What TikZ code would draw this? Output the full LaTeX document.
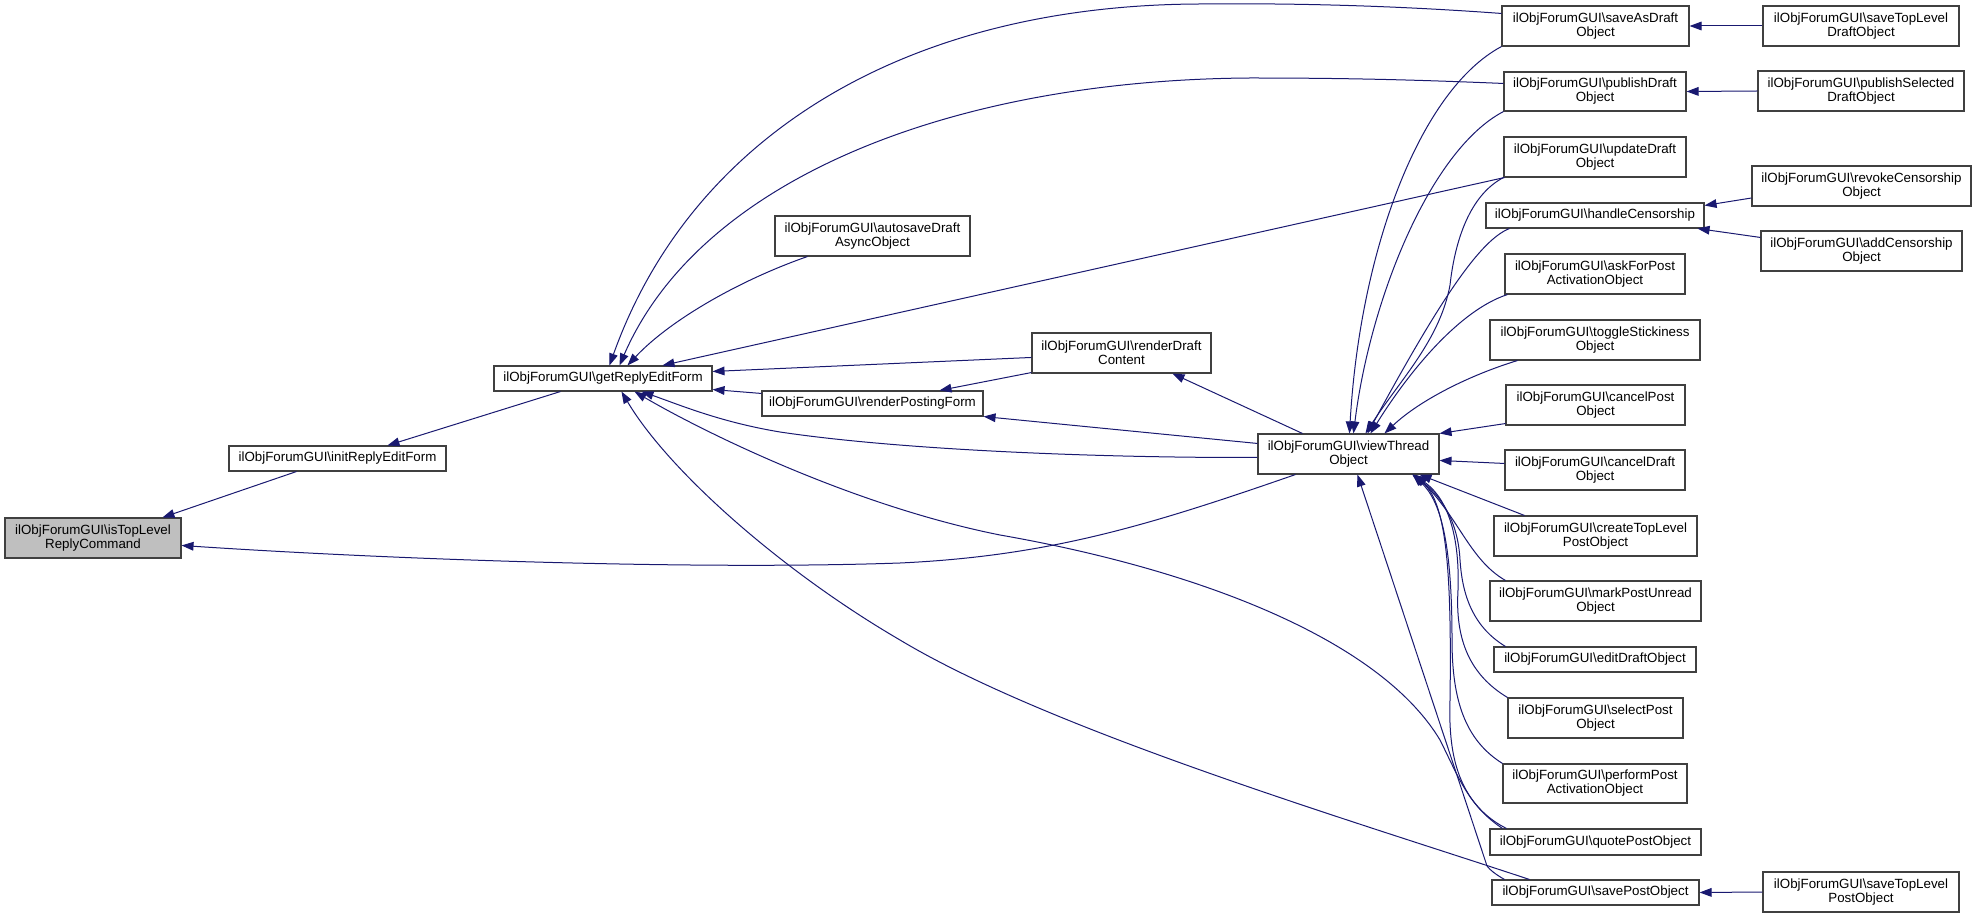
\documentclass[tikz,border=0pt]{standalone}
\usepackage{fontspec}
\setmainfont{Liberation Sans}
\usetikzlibrary{arrows.meta,calc}
\definecolor{edgecol}{RGB}{25,25,112}
\definecolor{boxborder}{RGB}{64,64,64}
\definecolor{hilite}{RGB}{191,191,191}
\tikzset{
  fn/.style={draw=boxborder, line width=0.8pt, fill=white, align=center, inner sep=0pt,
    font=\fontsize{10}{10.5}\selectfont},
  ed/.style={draw=edgecol, line width=0.75pt, -{Triangle[length=9pt,width=6.5pt]}},
}
\newcommand\bx[7][]{\node[fn,minimum width={(#5-#3)*0.75pt},minimum height={(#6-#4)*0.75pt},#1] (#2) at ({(#3+#5)/2},{(#4+#6)/2}) {#7};}
\newcommand\OF{ilObjForumGUI\textbackslash}
\begin{document}
\begin{tikzpicture}[x=0.75pt,y=-0.75pt]
\useasboundingbox (0,0) rectangle (1976,919);
% nodes
\bx[fill=hilite]{isTop}{5}{518}{181}{558}{\OF isTopLevel\\ReplyCommand}
\bx{init}{229}{446}{446}{471}{\OF initReplyEditForm}
\bx{getReply}{494}{366}{712}{391}{\OF getReplyEditForm}
\bx{autosave}{775}{216}{970}{256}{\OF autosaveDraft\\AsyncObject}
\bx{renderDraft}{1032}{333}{1211}{373}{\OF renderDraft\\Content}
\bx{renderPosting}{762}{391}{983}{416}{\OF renderPostingForm}
\bx{viewThread}{1258}{434}{1439}{474}{\OF viewThread\\Object}
\bx{saveAsDraft}{1502}{6}{1689}{46}{\OF saveAsDraft\\Object}
\bx{publishDraft}{1504}{72}{1686}{111}{\OF publishDraft\\Object}
\bx{updateDraft}{1504}{137}{1686}{177}{\OF updateDraft\\Object}
\bx{handleCens}{1486}{203}{1704}{228}{\OF handleCensorship}
\bx{askForPost}{1505}{254}{1685}{294}{\OF askForPost\\ActivationObject}
\bx{toggleSt}{1490}{320}{1700}{360}{\OF toggleStickiness\\Object}
\bx{cancelPost}{1506}{385}{1685}{425}{\OF cancelPost\\Object}
\bx{cancelDraft}{1505}{450}{1685}{490}{\OF cancelDraft\\Object}
\bx{createTop}{1494}{516}{1697}{556}{\OF createTopLevel\\PostObject}
\bx{markUnread}{1490}{581}{1701}{621}{\OF markPostUnread\\Object}
\bx{editDraft}{1494}{647}{1696}{672}{\OF editDraftObject}
\bx{selectPost}{1508}{698}{1683}{738}{\OF selectPost\\Object}
\bx{performPost}{1503}{764}{1687}{803}{\OF performPost\\ActivationObject}
\bx{quotePost}{1490}{829}{1701}{855}{\OF quotePostObject}
\bx{savePost}{1492}{880}{1699}{905}{\OF savePostObject}
\bx{saveTopDraft}{1763}{6}{1959}{46}{\OF saveTopLevel\\DraftObject}
\bx{publishSel}{1758}{71}{1964}{111}{\OF publishSelected\\DraftObject}
\bx{revokeC}{1752}{166}{1971}{206}{\OF revokeCensorship\\Object}
\bx{addC}{1761}{231}{1962}{271}{\OF addCensorship\\Object}
\bx{saveTopPost}{1763}{872}{1959}{912}{\OF saveTopLevel\\PostObject}
% edges into isTopLevel
\draw[ed] ($(init.south west)+(68,0)$) -- ($(isTop.north west)+(158,0)$);
\draw[ed] ($(viewThread.south west)+(38,0)$) .. controls (1150,525) and (1050,556) .. (900,563) .. controls (700,570) and (400,560) .. ($(isTop.north east)+(0,28)$);
% edges into initReplyEditForm
\draw[ed] ($(getReply.south west)+(67,0)$) -- ($(init.north west)+(159,0)$);
% edges into getReplyEditForm
\draw[ed] ($(saveAsDraft.north west)+(0,8)$) .. controls (1400,6) and (1300,3) .. (1200,4) .. controls (900,5) and (690,140) .. ($(getReply.north west)+(116,0)$);
\draw[ed] ($(publishDraft.north west)+(0,12)$) .. controls (1420,80) and (1350,78) .. (1250,78) .. controls (950,80) and (700,180) .. ($(getReply.north west)+(126,0)$);
\draw[ed] ($(autosave.south west)+(33,0)$) .. controls (740,280) and (670,320) .. ($(getReply.north west)+(134,0)$);
\draw[ed] ($(updateDraft.south west)+(1,0)$) -- ($(getReply.north west)+(169,0)$);
\draw[ed] ($(renderDraft.north west)+(0,25)$) -- ($(getReply.north east)+(0,6)$);
\draw[ed] ($(renderPosting.north west)+(0,3)$) -- ($(getReply.south east)+(0,-2)$);
\draw[ed] ($(viewThread.north west)+(0,24)$) .. controls (1100,458) and (900,450) .. (780,432) .. controls (720,422) and (680,405) .. ($(getReply.south west)+(148,0)$);
\draw[ed] ($(quotePost.north west)+(17,0)$) .. controls (1470,810) and (1460,780) .. (1440,740) .. controls (1380,640) and (1200,570) .. (1000,535) .. controls (850,505) and (700,430) .. ($(getReply.south west)+(141,0)$);
\draw[ed] ($(savePost.north west)+(38,0)$) .. controls (1350,820) and (1050,730) .. (900,640) .. controls (780,570) and (668,470) .. ($(getReply.south west)+(128,0)$);
% edges into renderPostingForm / renderDraftContent
\draw[ed] ($(renderDraft.south west)+(0,-1)$) -- ($(renderPosting.north west)+(178,0)$);
\draw[ed] ($(viewThread.north west)+(0,10)$) -- (renderPosting.south east);
\draw[ed] ($(viewThread.north west)+(45,0)$) -- ($(renderDraft.south west)+(141,0)$);
% edges into viewThreadObject
\draw[ed] (saveAsDraft.south west) .. controls (1420,90) and (1360,250) .. ($(viewThread.north west)+(92,0)$);
\draw[ed] (publishDraft.south west) .. controls (1430,150) and (1370,300) .. ($(viewThread.north west)+(96,0)$);
\draw[ed] (updateDraft.south west) .. controls (1470,195) and (1455,240) .. (1450,285) .. controls (1440,340) and (1400,380) .. ($(viewThread.north west)+(108,0)$);
\draw[ed] ($(handleCens.south west)+(24,0)$) .. controls (1480,240) and (1440,300) .. ($(viewThread.north west)+(110,0)$);
\draw[ed] ($(askForPost.south west)+(3,0)$) .. controls (1460,310) and (1410,370) .. ($(viewThread.north west)+(113,0)$);
\draw[ed] ($(toggleSt.south west)+(28,0)$) .. controls (1470,375) and (1420,400) .. ($(viewThread.north west)+(127,0)$);
\draw[ed] ($(cancelPost.south west)+(0,-2)$) -- (viewThread.north east);
\draw[ed] ($(cancelDraft.north west)+(0,14)$) -- ($(viewThread.north east)+(0,27)$);
\draw[ed] ($(createTop.north west)+(31,0)$) -- ($(viewThread.south west)+(162,0)$);
\draw[ed] ($(markUnread.north west)+(16,0)$) .. controls (1470,560) and (1460,520) .. ($(viewThread.south west)+(158,0)$);
\draw[ed] ($(editDraft.north west)+(12,0)$) .. controls (1470,625) and (1462,590) .. (1460,560) .. controls (1458,520) and (1440,495) .. ($(viewThread.south west)+(155,0)$);
\draw[ed] (selectPost.north west) .. controls (1470,675) and (1455,640) .. (1458,590) .. controls (1460,530) and (1445,495) .. ($(viewThread.south west)+(155,0)$);
\draw[ed] (performPost.north west) .. controls (1465,740) and (1452,700) .. (1452,640) .. controls (1452,540) and (1440,500) .. ($(viewThread.south west)+(155,0)$);
\draw[ed] ($(quotePost.north west)+(13,0)$) .. controls (1460,800) and (1448,760) .. (1450,700) .. controls (1452,560) and (1445,500) .. ($(viewThread.south west)+(155,0)$);
\draw[ed] ($(savePost.north west)+(13,0)$) .. controls (1495,874) and (1490,870) .. (1487,866) -- ($(viewThread.south west)+(100,0)$);
% edges into handleCensorship
\draw[ed] ($(revokeC.west)+(0,12)$) -- ($(handleCens.east)+(0,-10)$);
\draw[ed] ($(addC.north west)+(0,7)$) -- ($(handleCens.south east)+(-7,0)$);
% horizontal edges
\draw[ed] (saveTopDraft.west) -- (saveAsDraft.east);
\draw[ed] (publishSel.west) -- (publishDraft.east);
\draw[ed] (saveTopPost.west) -- (savePost.east);
\end{tikzpicture}
\end{document}
